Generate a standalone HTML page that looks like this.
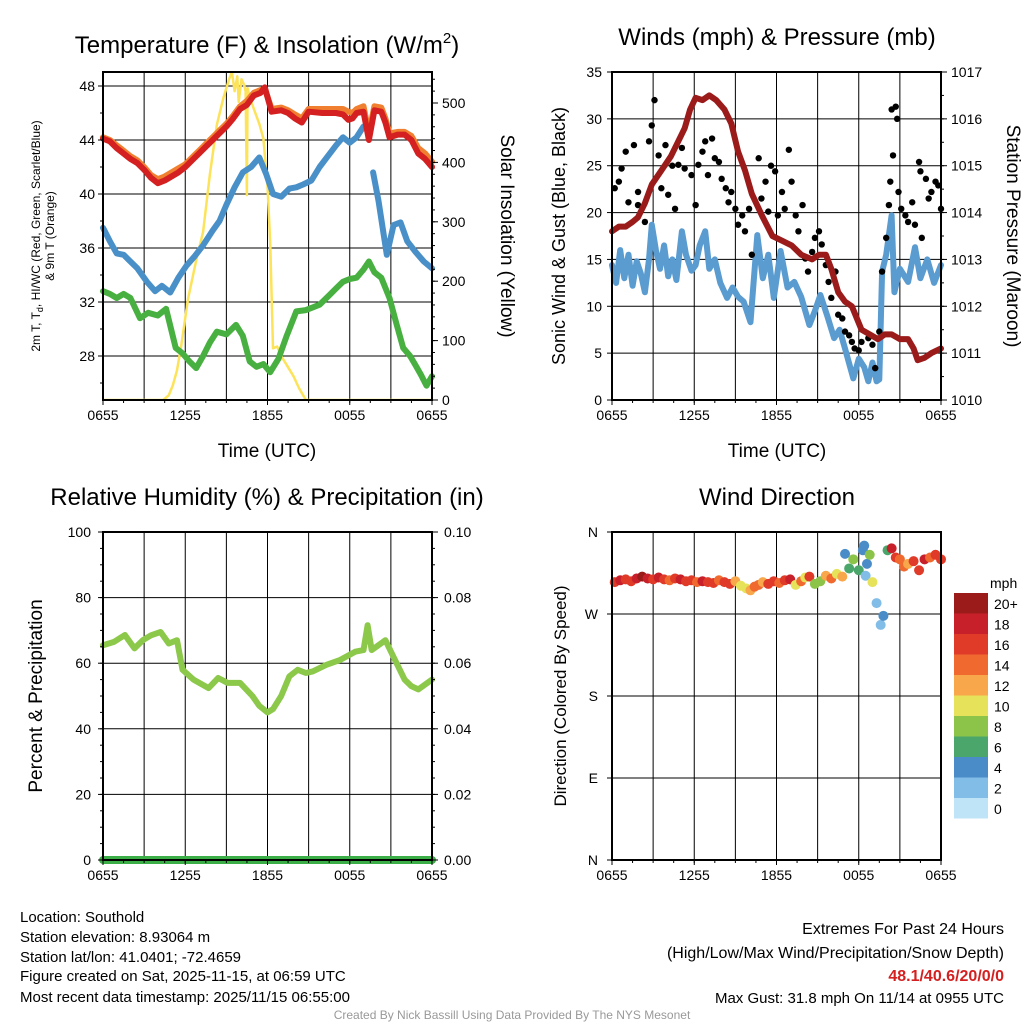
<!DOCTYPE html>
<html><head><meta charset="utf-8"><style>
body{margin:0;background:#fff;width:1024px;height:1024px;overflow:hidden;font-family:"Liberation Sans",sans-serif}
svg text{font-family:"Liberation Sans",sans-serif}
</style></head><body>
<svg id="s" width="1024" height="1024" viewBox="0 0 1024 1024" xmlns="http://www.w3.org/2000/svg">
<rect width="1024" height="1024" fill="#fff"/>
<defs><clipPath id="c1"><rect x="103" y="72" width="329" height="328"/></clipPath></defs>
<text x="267" y="53" font-size="24" text-anchor="middle">Temperature (F) &amp; Insolation (W/m<tspan font-size="15" dy="-10">2</tspan><tspan dy="10">)</tspan></text>
<text x="777" y="45" font-size="24" text-anchor="middle">Winds (mph) &amp; Pressure (mb)</text>
<text x="267" y="505" font-size="24" text-anchor="middle">Relative Humidity (%) &amp; Precipitation (in)</text>
<text x="777" y="505" font-size="24" text-anchor="middle">Wind Direction</text>
<text x="267" y="457" font-size="19" text-anchor="middle">Time (UTC)</text>
<text x="777" y="457" font-size="19" text-anchor="middle">Time (UTC)</text>
<text transform="translate(40,236) rotate(-90)" font-size="12" text-anchor="middle">2m T, T<tspan font-size="9" dy="3">d</tspan><tspan dy="-3">, HI/WC (Red, Green, Scarlet/Blue)</tspan></text>
<text transform="translate(54,236) rotate(-90)" font-size="12" text-anchor="middle">&amp; 9m T (Orange)</text>
<text transform="translate(501,236) rotate(90)" font-size="19" text-anchor="middle">Solar Insolation (Yellow)</text>
<text transform="translate(565,236) rotate(-90)" font-size="18" text-anchor="middle">Sonic Wind &amp; Gust (Blue, Black)</text>
<text transform="translate(1007,236) rotate(90)" font-size="19" text-anchor="middle">Station Pressure (Maroon)</text>
<text transform="translate(42,696) rotate(-90)" font-size="19" text-anchor="middle">Percent &amp; Precipitation</text>
<text transform="translate(566,696) rotate(-90)" font-size="17" text-anchor="middle">Direction (Colored By Speed)</text>
<g font-size="15">
<text x="20" y="922">Location: Southold</text>
<text x="20" y="942">Station elevation: 8.93064 m</text>
<text x="20" y="962">Station lat/lon: 41.0401; -72.4659</text>
<text x="20" y="981">Figure created on Sat, 2025-11-15, at 06:59 UTC</text>
<text x="20" y="1002">Most recent data timestamp: 2025/11/15 06:55:00</text>
</g>
<g font-size="16" text-anchor="end">
<text x="1004" y="934">Extremes For Past 24 Hours</text>
<text x="1004" y="958">(High/Low/Max Wind/Precipitation/Snow Depth)</text>
<text x="1004" y="981" font-weight="bold" fill="#d42020">48.1/40.6/20/0/0</text>
<text x="1004" y="1003" font-size="15">Max Gust: 31.8 mph On 11/14 at 0955 UTC</text>
</g>
<text x="512" y="1019" font-size="12" fill="#999" text-anchor="middle">Created By Nick Bassill Using Data Provided By The NYS Mesonet</text>
</svg>
<script>
// ---------- data ----------
const xTickLabels=["0655","1255","1855","0055","0655"];
const tempH=[0,0.5,1,1.5,2,2.5,3,3.5,4,4.5,5,5.5,6,6.5,7,7.5,8,8.5,9,9.5,10,10.5,11,11.5,11.8,12.3,13,13.5,14,14.5,15,16,17,17.5,17.9,18.2,18.5,19,19.4,19.8,20.3,20.6,20.9,21.5,22,22.5,23,23.5,24];
const temp2m=[44.1,43.9,43.4,43.0,42.6,42.3,41.8,41.2,40.8,41.0,41.3,41.6,42.0,42.5,43.0,43.5,44.0,44.5,45.0,45.6,46.3,46.6,47.3,47.5,47.9,46.1,46.2,46.0,45.6,45.3,46.1,46.0,46.0,45.9,45.5,45.6,46.0,46.1,44.0,46.2,46.1,45.3,44.2,44.4,44.4,44.0,43.0,42.6,42.0];
const temp9m=[44.2,44.0,43.6,43.2,42.8,42.5,42.0,41.4,41.1,41.3,41.6,41.9,42.2,42.7,43.2,43.7,44.2,44.7,45.2,45.8,46.5,46.9,47.5,47.7,47.8,46.3,46.4,46.2,45.9,45.6,46.3,46.3,46.3,46.3,46.1,46.0,46.3,46.5,44.5,46.5,46.4,45.6,44.5,44.6,44.6,44.3,43.4,43.0,42.4];
const blueH=[0,0.5,1,1.5,2,2.5,3.2,3.8,4.3,4.9,5.5,6.1,6.7,7.3,8,8.5,9,9.6,10.2,10.8,11.4,11.9,12.4,13,13.6,14.1,14.6,15.2,15.8,16.4,17,17.5,18,18.5,19.0,19.3,19.7,20.1,20.7,21.2,21.7,22.2,22.8,23.4,24];
const bluT=[37.5,36.5,35.6,35.5,35.0,34.5,33.5,32.8,33.2,32.7,33.8,34.7,35.4,36.2,37.3,38.0,39.2,40.5,41.6,42.0,42.7,41.5,40.0,39.8,40.4,40.5,40.7,41.0,42.0,42.8,43.6,44.2,43.8,44.2,45.0,null,41.6,39.5,35.5,37.7,37.9,36.5,35.7,35.0,34.5];
const greenH=[0,0.5,1,1.5,2,2.7,3.3,4,4.6,5.3,5.8,6.3,6.8,7.3,7.8,8.3,9,9.7,10.2,10.7,11.2,11.7,12.2,12.8,13.4,14.1,14.8,15.3,15.8,16.5,17,17.5,18,18.5,19,19.4,19.8,20.3,20.9,21.4,21.9,22.4,22.8,23.2,23.6,24];
const greenT=[32.8,32.6,32.3,32.6,32.3,30.8,31.2,31.0,31.5,28.6,28.2,27.6,27.1,28.0,29.0,29.8,29.6,30.3,29.5,27.6,27.2,27.4,26.8,27.8,29.5,31.3,31.4,31.6,31.8,32.5,33.0,33.5,33.7,33.8,34.4,35.0,34.2,33.8,32.3,30.4,28.6,28.0,27.3,26.6,25.8,26.5];
const solarH=[0,4.4,4.8,5.1,5.4,5.7,6.2,6.8,7.3,7.8,8.3,8.8,9.2,9.4,9.6,9.8,9.9,10.1,10.3,10.4,10.5,10.55,10.7,11.0,11.4,11.7,12.0,12.2,12.4,12.7,13.1,13.5,13.9,14.3,14.8,24];
const solarW=[0,0,8,25,50,90,170,235,283,380,463,510,540,552,520,545,502,540,530,520,345,525,510,490,465,440,360,266,87,90,70,55,40,20,0,0];
const presH=[0,0.5,1,1.5,1.9,2.4,2.9,3.6,4.3,4.8,5.3,5.7,6.1,6.6,7.1,7.6,8.2,8.7,9.2,9.7,10.2,11,11.7,12.4,13.1,13.8,14.6,15.1,15.6,16,16.5,17,17.5,18.2,18.8,19.4,19.9,20.4,21,21.6,22,22.3,22.8,23.3,24];
const presMb=[1013.6,1013.7,1013.7,1013.8,1013.9,1014.2,1014.6,1014.9,1015.2,1015.5,1015.8,1016.2,1016.45,1016.4,1016.5,1016.4,1016.2,1015.9,1015.3,1014.9,1014.4,1013.9,1013.5,1013.4,1013.3,1013.1,1013.0,1013.1,1013.1,1012.8,1012.3,1012.1,1012.0,1011.5,1011.4,1011.3,1011.4,1011.4,1011.3,1011.3,1011.1,1010.85,1010.9,1011.0,1011.1];
const windH=[0,0.3,0.6,0.9,1.2,1.5,1.8,2.1,2.4,2.7,2.9,3.2,3.5,3.8,4.1,4.4,4.7,5.1,5.4,5.8,6.1,6.4,6.8,7.1,7.5,7.9,8.4,8.8,9.2,9.6,10.1,10.6,11.0,11.4,11.8,12.3,12.8,13.3,13.8,14.4,14.8,15.2,15.7,16.2,16.6,17.0,17.6,18.0,18.4,18.7,19.0,19.3,19.5,19.7,20.0,20.4,20.6,21.0,21.6,22.1,22.5,23.0,23.5,24];
const windMph=[14.4,12.5,16.0,13.0,15.5,12.2,14.8,13.5,11.5,15.0,18.7,16.0,14.0,16.5,13.2,15.0,12.8,18.0,15.5,13.8,14.4,16.5,18.0,14.0,15.0,12.5,10.9,12.0,11.0,10.5,8.3,17.6,13.0,15.5,10.9,15.9,12.0,12.6,11.0,8.0,9.5,11.2,9.0,6.6,7.5,5.5,2.3,4.4,3.5,2.0,4.0,2.0,2.2,13.7,15.5,19.7,11.5,14.0,12.6,16.3,13.0,15.0,12.5,14.4];
const gustH=[0.2,0.5,0.7,1.0,1.2,1.6,1.9,1.9,2.4,2.7,2.9,3.1,3.4,3.6,3.9,4.1,4.4,4.6,4.84,5.1,5.3,5.8,6.1,6.3,6.6,6.8,7.0,7.3,7.5,7.8,8.0,8.3,8.5,8.7,9.0,9.2,9.5,9.7,10.0,10.2,10.7,10.9,11.2,11.4,11.6,11.9,12.1,12.4,12.6,12.9,13.1,13.4,13.6,13.9,14.1,14.3,14.6,14.8,15.1,15.3,15.6,15.8,16.0,16.3,16.5,16.8,17.0,17.3,17.5,17.7,18.0,18.2,18.7,19.0,19.2,19.5,19.7,20.0,20.2,20.3,20.4,20.5,20.7,20.8,20.9,21.1,21.4,21.6,21.9,22.1,22.4,22.5,22.6,22.9,23.1,23.3,23.6,23.8,24.0];
const gustMph=[22.6,23.3,24.7,26.5,21.1,27.2,22.2,20.8,19.0,27.6,29.3,32.0,26.1,22.6,27.2,21.9,25.0,20.4,25.1,26.9,24.7,24.0,20.8,25.1,26.5,27.6,24.0,27.9,25.8,25.4,23.6,22.6,21.1,22.2,20.4,18.7,19.7,18.0,20.4,15.5,25.8,21.5,23.3,20.1,25.0,24.4,19.7,22.2,20.4,26.7,23.3,19.7,18.0,20.8,15.1,13.7,15.8,17.3,18.0,16.6,14.4,12.6,10.9,13.7,9.1,8.7,7.3,6.9,6.2,5.5,5.3,6.2,6.6,5.9,3.4,7.3,13.7,17.3,20.8,23.3,31.0,26.1,31.3,30.0,22.2,20.4,19.7,19.0,21.1,18.7,25.4,24.4,17.3,23.6,21.5,22.2,23.3,22.9,20.4];
const rhH=[0,0.8,1.6,2.3,2.9,3.5,4.2,4.8,5.4,5.8,6.6,7.7,8.4,9.1,10.0,10.9,11.4,12.0,12.4,13.0,13.6,14.2,14.8,15.3,16.3,17.3,18.4,19.0,19.3,19.6,20.6,21.3,22.0,22.5,23.0,24];
const rhPct=[65.5,66.5,68.6,64.5,67.0,68.5,69.5,66.0,67.0,58.0,55.0,52.4,55.5,54.0,54.0,50.0,47.0,45.0,46.0,50.0,56.0,58.0,57.0,57.5,59.5,61.0,63.5,64.0,71.6,64.0,67.0,61.0,55.0,53.0,52.0,55.0];
const precipH=[0,24];
const precipIn=[0,0];
const dirH=[0.2,0.6,1.0,1.4,1.8,2.2,2.6,3.0,3.4,3.8,4.2,4.6,5.0,5.4,5.8,6.2,6.6,7.0,7.4,7.8,8.2,8.6,9.0,9.4,9.8,10.1,10.4,10.7,11.0,11.4,11.8,12.2,12.6,13.0,13.4,13.8,14.1,14.4,14.8,15.2,15.6,16.0,16.4,16.8,17.0,17.3,17.6,18.0,18.3,18.4,18.5,18.6,18.8,19.0,19.3,19.6,19.8,20.1,20.4,20.7,21.0,21.3,21.6,22.0,22.4,22.8,23.2,23.6,24.0];
const dirDeg=[305,307,308,306,309,311,309,308,310,308,307,309,308,306,307,305,306,305,304,307,305,303,306,301,298,296,300,302,305,303,306,304,307,308,302,306,310,311,303,306,312,309,314,311,336,320,330,318,340,345,312,325,335,305,282,258,268,340,342,332,330,322,325,328,318,330,332,335,330];
const dirSpd=[16,17,15,16,18,19,17,16,18,15,14,16,18,16,15,14,17,16,15,13,15,16,12,10,9,11,13,14,12,15,16,14,15,17,9,13,10,16,7,8,12,14,10,12,4,6,8,5,4,3,2,4,7,9,2,2,3,6,18,16,14,13,12,15,16,17,14,15,16];
const spdColors=["#bfe4f8","#82bde8","#4a8cc8","#4aa66a","#8cc44a","#e6e25a","#f8a74a","#f06a30","#e03a28","#c8202a","#9b1b1b"];
const spdLabels=["0","2","4","6","8","10","12","14","16","18","20+"];

// ---------- helpers ----------
const S=document.getElementById('s');const NS="http://www.w3.org/2000/svg";
function mk(tag,attrs,parent){const e=document.createElementNS(NS,tag);for(const k in attrs)e.setAttribute(k,attrs[k]);(parent||S).appendChild(e);return e;}
function lin(d0,d1,p0,p1){return v=>p0+(v-d0)/(d1-d0)*(p1-p0);}
function panel(name){
  const g=mk('g',{});
  
  
  return g;
}
function grid(g,x0,y0,w,h,xs,ys){
  for(const x of xs){const l=mk('line',{x1:x,y1:y0,x2:x,y2:y0+h,stroke:'#000','stroke-width':1},g);
    
    }
  for(const y of ys){const l=mk('line',{x1:x0,y1:y,x2:x0+w,y2:y,stroke:'#000','stroke-width':1},g);
    
    }
}
function frame(g,x0,y0,w,h){const r=mk('rect',{x:x0,y:y0,width:w,height:h,fill:'none',stroke:'#000','stroke-width':2},g);
  
  }
function tickLabel(g,x,y,t,anchor,name){const e=mk('text',{x:x,y:y,'font-size':14,'text-anchor':anchor},g);e.textContent=t;
  
  }
function line(g,xs,ys,xf,yf,color,wd,name,clip){
  let segs=[],cur=[];
  for(let i=0;i<xs.length;i++){if(ys[i]===null){if(cur.length)segs.push(cur);cur=[];continue;}cur.push(xf(xs[i]).toFixed(1)+','+yf(ys[i]).toFixed(1));}
  if(cur.length)segs.push(cur);
  for(const s of segs){const p=mk('polyline',{points:s.join(' '),fill:'none',stroke:color,'stroke-width':wd,'stroke-linejoin':'round','stroke-linecap':'round'},g);
    if(clip)p.setAttribute('clip-path',clip);
    
    }
}
function xAxis(g,x0,w,yb,xf){
  xTickLabels.forEach((t,i)=>{tickLabel(g,xf(i*6),yb+20,t,'middle','x-tick-label');
    mk('line',{x1:xf(i*6),y1:yb,x2:xf(i*6),y2:yb+5,stroke:'#000'},g);});
  for(let hh=0;hh<=24;hh+=1.5)mk('line',{x1:xf(hh),y1:yb,x2:xf(hh),y2:yb+3,stroke:'#000'},g);
}
const vlines=(xf)=>{const a=[];for(let hh=3;hh<24;hh+=3)a.push(xf(hh));return a;};

// ---------- Panel 1 ----------
{const x0=103,y0=72,w=329,h=328;const g=panel('temperature-panel');
 const X=lin(0,24,x0,x0+w),T=lin(28,48,356,86),R=lin(0,500,400,103);
 grid(g,x0,y0,w,h,vlines(X),[28,32,36,40,44,48].map(T));
 line(g,solarH,solarW,X,R,'#fde35a',2.5,'solar-insolation-line','url(#c1)');
 line(g,greenH,greenT,X,T,'#48b040',6,'dewpoint-line');
 line(g,blueH,bluT,X,T,'#4a90c8',6,'heat-index-windchill-line');
 line(g,tempH,temp9m,X,T,'#f08030',6,'temperature-9m-line');
 line(g,tempH,temp2m,X,T,'#d42020',6,'temperature-2m-line');
 frame(g,x0,y0,w,h);
 [28,32,36,40,44,48].forEach(v=>{tickLabel(g,x0-8,T(v)+5,String(v),'end','temperature-tick-label');mk('line',{x1:x0-5,y1:T(v),x2:x0,y2:T(v),stroke:'#000'},g);});
 for(let v=26;v<=48;v+=2)mk('line',{x1:x0-3,y1:T(v),x2:x0,y2:T(v),stroke:'#000'},g);
 [0,100,200,300,400,500].forEach(v=>{tickLabel(g,x0+w+10,R(v)+5,String(v),'start','solar-tick-label');mk('line',{x1:x0+w,y1:R(v),x2:x0+w+6,y2:R(v),stroke:'#000'},g);});
 for(let v=0;v<=540;v+=20)mk('line',{x1:x0+w,y1:R(v),x2:x0+w+3,y2:R(v),stroke:'#000'},g);
 xAxis(g,x0,w,y0+h,X);}

// ---------- Panel 2 ----------
{const x0=612,y0=72,w=329,h=328;const g=panel('winds-panel');
 const X=lin(0,24,x0,x0+w),W=lin(0,35,400,72),P=lin(1010,1017,400,72);
 grid(g,x0,y0,w,h,vlines(X),[5,10,15,20,25,30].map(W));
 line(g,windH,windMph,X,W,'#5a9bd0',6,'sonic-wind-line');
 gustH.forEach((hh,i)=>{const c=mk('circle',{cx:X(hh),cy:W(gustMph[i]),r:3.2,fill:'#000'},g);
   
   });
 line(g,presH,presMb,X,P,'#9b1b1b',6,'station-pressure-line');
 frame(g,x0,y0,w,h);
 [0,5,10,15,20,25,30,35].forEach(v=>{tickLabel(g,x0-10,W(v)+5,String(v),'end','wind-tick-label');mk('line',{x1:x0-5,y1:W(v),x2:x0,y2:W(v),stroke:'#000'},g);});
 for(let v=1010;v<=1017;v++){tickLabel(g,x0+w+10,P(v)+5,String(v),'start','pressure-tick-label');mk('line',{x1:x0+w,y1:P(v),x2:x0+w+6,y2:P(v),stroke:'#000'},g);}
 for(let v=1010;v<=1017;v+=0.5)mk('line',{x1:x0+w,y1:P(v),x2:x0+w+3,y2:P(v),stroke:'#000'},g);
 xAxis(g,x0,w,y0+h,X);}

// ---------- Panel 3 ----------
{const x0=103,y0=532,w=329,h=328;const g=panel('humidity-panel');
 const X=lin(0,24,x0,x0+w),H=lin(0,100,860,532),Pp=lin(0,0.1,860,532);
 grid(g,x0,y0,w,h,vlines(X),[20,40,60,80].map(H));
 line(g,rhH,rhPct,X,H,'#8cc84a',6,'relative-humidity-line');
 line(g,precipH,precipIn,X,Pp,'#3cae48',8,'precipitation-line');
 frame(g,x0,y0,w,h);
 [0,20,40,60,80,100].forEach(v=>{tickLabel(g,x0-12,H(v)+5,String(v),'end','humidity-tick-label');mk('line',{x1:x0-5,y1:H(v),x2:x0,y2:H(v),stroke:'#000'},g);});
 for(let v=0;v<=100;v+=5)mk('line',{x1:x0-3,y1:H(v),x2:x0,y2:H(v),stroke:'#000'},g);
 [0,0.02,0.04,0.06,0.08,0.1].forEach(v=>{tickLabel(g,x0+w+12,Pp(v)+5,v.toFixed(2),'start','precip-tick-label');mk('line',{x1:x0+w,y1:Pp(v),x2:x0+w+6,y2:Pp(v),stroke:'#000'},g);});
 for(let v=0;v<=0.1;v+=0.005)mk('line',{x1:x0+w,y1:Pp(v),x2:x0+w+3,y2:Pp(v),stroke:'#000'},g);
 xAxis(g,x0,w,y0+h,X);}

// ---------- Panel 4 ----------
{const x0=612,y0=532,w=329,h=328;const g=panel('wind-direction-panel');
 const X=lin(0,24,x0,x0+w),D=lin(0,360,860,532);
 grid(g,x0,y0,w,h,vlines(X),[90,180,270].map(D));
 dirH.forEach((hh,i)=>{const idx=Math.min(10,Math.max(0,Math.round(dirSpd[i]/2)));
   const c=mk('circle',{cx:X(hh),cy:D(dirDeg[i]),r:5,fill:spdColors[idx]},g);
   
   });
 frame(g,x0,y0,w,h);
 [[0,'N'],[90,'E'],[180,'S'],[270,'W'],[360,'N']].forEach(([v,t])=>{tickLabel(g,x0-14,D(v)+5,t,'end','direction-tick-label');mk('line',{x1:x0-5,y1:D(v),x2:x0,y2:D(v),stroke:'#000'},g);});
 xAxis(g,x0,w,y0+h,X);
 const lg=mk('g',{},S);
 
 
 const t=mk('text',{x:990,y:588,'font-size':14},lg);t.textContent='mph';
 
 
 for(let i=0;i<11;i++){const yy=798-i*20.5;
   const r=mk('rect',{x:954,y:yy,width:34,height:20.5,fill:spdColors[i]},lg);
   
   
   const l=mk('text',{x:994,y:yy+16,'font-size':14},lg);l.textContent=spdLabels[i];
   
   }
}
</script>
</body></html>
